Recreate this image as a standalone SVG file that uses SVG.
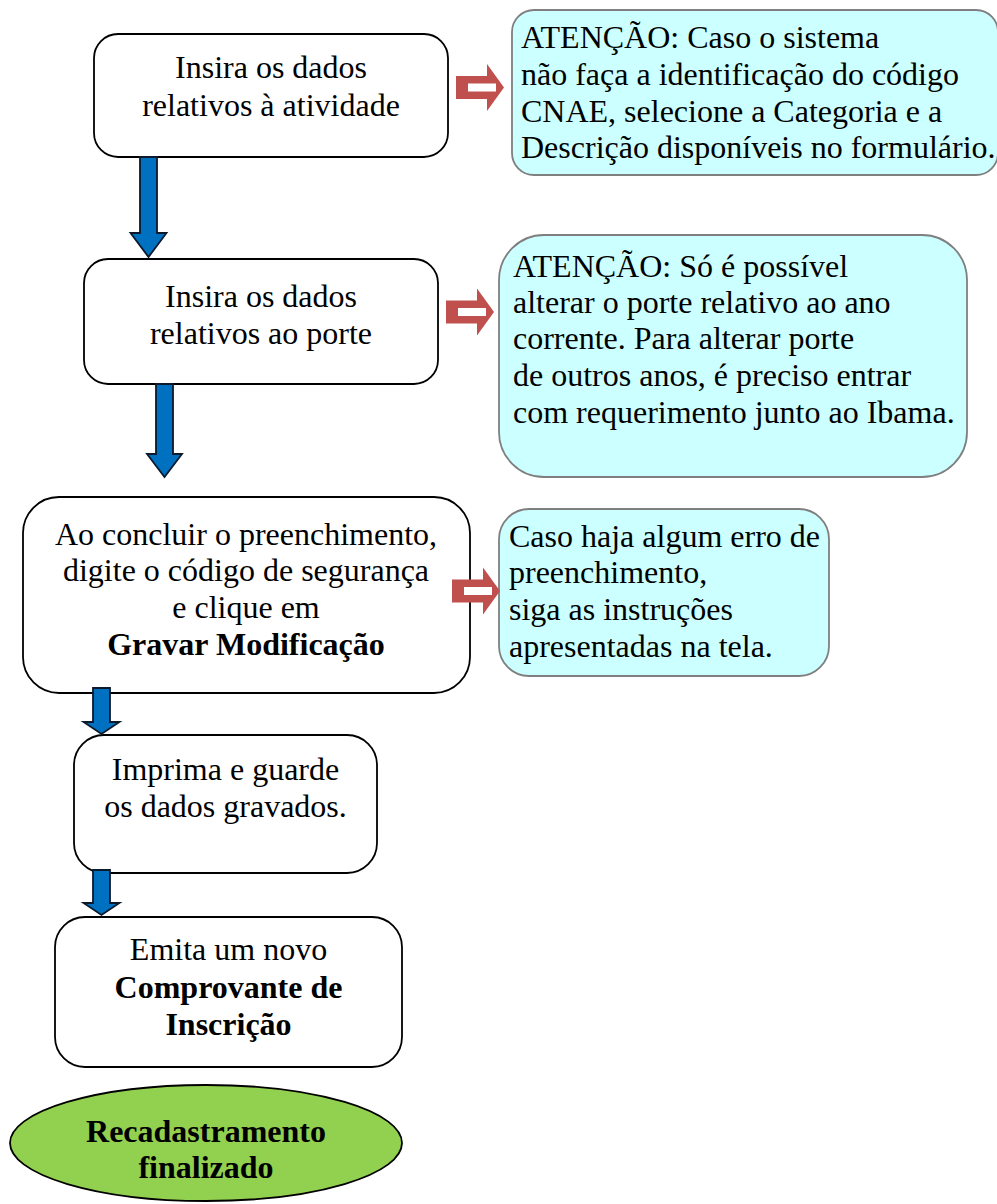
<svg xmlns="http://www.w3.org/2000/svg" xmlns:xlink="http://www.w3.org/1999/xlink" width="997" height="1204" viewBox="0 0 997 1204">
<style>
.box{fill:#fff;stroke:#000;stroke-width:1.8}
.note{fill:#ccffff;stroke:#7f7f7f;stroke-width:1.8}
.end{fill:#92d050;stroke:#000;stroke-width:1.8}
.t{font-family:"Liberation Serif","Times New Roman",serif;font-size:32px;fill:#000}
.c{text-anchor:middle}
.b{font-weight:bold}
.blue{fill:#0070c0;stroke:#0d1a2b;stroke-width:1.8;stroke-linejoin:miter}
</style>
<defs>
<g id="redArrow">
<polygon points="0,-11.5 31,-11.5 31,-23.5 48,0 31,23.5 31,11.5 0,11.5" fill="#c0504d"/>
<rect x="12" y="-4" width="28" height="8" fill="#fff"/>
</g>
</defs>
<rect width="997" height="1204" fill="#fff"/>

<g id="node1">
<rect class="box" x="94" y="34" width="354" height="123" rx="24"/>
<text class="t c" x="271" y="78">Insira os dados</text>
<text class="t c" x="271" y="116">relativos à atividade</text>
</g>
<g id="note1">
<rect class="note" x="512" y="10" width="486" height="165" rx="22"/>
<text class="t" x="521" y="48">ATENÇÃO: Caso o sistema</text>
<text class="t" x="521" y="85">não faça a identificação do código</text>
<text class="t" x="521" y="122">CNAE, selecione a Categoria e a</text>
<text class="t" x="521" y="158">Descrição disponíveis no formulário.</text>
</g>
<g id="node2">
<rect class="box" x="84" y="259" width="354" height="125" rx="24"/>
<text class="t c" x="261" y="307">Insira os dados</text>
<text class="t c" x="261" y="344">relativos ao porte</text>
</g>
<g id="note2">
<rect class="note" x="499" y="235" width="468" height="242" rx="45"/>
<text class="t" x="513" y="277">ATENÇÃO: Só é possível</text>
<text class="t" x="513" y="313">alterar o porte relativo ao ano</text>
<text class="t" x="513" y="349">corrente. Para alterar porte</text>
<text class="t" x="513" y="386">de outros anos, é preciso entrar</text>
<text class="t" x="513" y="423">com requerimento junto ao Ibama.</text>
</g>
<g id="node3">
<rect class="box" x="23" y="497" width="447" height="196" rx="36"/>
<text class="t c" x="246" y="545">Ao concluir o preenchimento,</text>
<text class="t c" x="246" y="581">digite o código de segurança</text>
<text class="t c" x="246" y="618">e clique em</text>
<text class="t c b" x="246" y="655">Gravar Modificação</text>
</g>
<g id="note3">
<rect class="note" x="499" y="509" width="330" height="167" rx="30"/>
<text class="t" x="509" y="547">Caso haja algum erro de</text>
<text class="t" x="509" y="583">preenchimento,</text>
<text class="t" x="509" y="620">siga as instruções</text>
<text class="t" x="509" y="657">apresentadas na tela.</text>
</g>
<g id="node4">
<rect class="box" x="74" y="735" width="303" height="138" rx="30"/>
<text class="t c" x="225.5" y="780">Imprima e guarde</text>
<text class="t c" x="225.5" y="817">os dados gravados.</text>
</g>
<g id="node5">
<rect class="box" x="55" y="917" width="347" height="150" rx="30"/>
<text class="t c" x="228.5" y="960">Emita um novo</text>
<text class="t c b" x="228.5" y="998">Comprovante de</text>
<text class="t c b" x="228.5" y="1035">Inscrição</text>
</g>
<g id="end">
<ellipse class="end" cx="206" cy="1143" rx="196" ry="58"/>
<text class="t c b" x="206" y="1142">Recadastramento</text>
<text class="t c b" x="206" y="1178">finalizado</text>
</g>

<g id="connectors">
<path class="blue" d="M140,157 H157 V233 H166.5 L148.5,257 L130.5,233 H140 Z"/>
<path class="blue" d="M156,384 H173 V454 H182 L164.5,477 L147,454 H156 Z"/>
<path class="blue" d="M93,688 H110 V722 H119.5 L101.5,734 L83.5,722 H93 Z"/>
<path class="blue" d="M93,870 H110 V903 H119.5 L101.5,915 L83.5,903 H93 Z"/>
<use xlink:href="#redArrow" x="456" y="87.5"/>
<use xlink:href="#redArrow" x="446" y="312"/>
<use xlink:href="#redArrow" x="452" y="591"/>
</g>
</svg>
